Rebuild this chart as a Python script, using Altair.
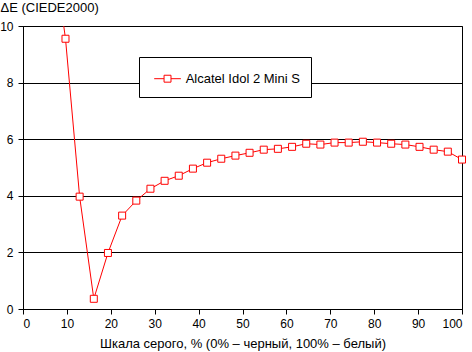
import altair as alt
import pandas as pd

gray_pct = [6.45, 9.68, 12.9, 16.13, 19.35, 22.58, 25.81, 29.03, 32.26, 35.48,
            38.71, 41.94, 45.16, 48.39, 51.61, 54.84, 58.06, 61.29, 64.52, 67.74,
            70.97, 74.19, 77.42, 80.65, 83.87, 87.1, 90.32, 93.55, 96.77, 100]
delta_e = [13.2, 9.55, 3.97, 0.36, 1.98, 3.3, 3.83, 4.25, 4.53, 4.71,
           4.96, 5.17, 5.31, 5.42, 5.52, 5.63, 5.66, 5.73, 5.84, 5.81,
           5.88, 5.88, 5.91, 5.88, 5.84, 5.81, 5.73, 5.63, 5.56, 5.28]
series_name = "Alcatel Idol 2 Mini S"
x_ticks = [0, 10, 20, 30, 40, 50, 60, 70, 80, 90, 100]
y_ticks = [0, 2, 4, 6, 8, 10]

df = pd.DataFrame({"x": gray_pct, "y": delta_e, "s": [series_name] * len(gray_pct)})

FONT = "Liberation Sans"
RED = "#FF0000"

legend_path = "M-0.62,0H0.32M0.98,0H1.92M0.32,-0.33H0.98V0.33H0.32Z"

x_enc = alt.X("x:Q", scale=alt.Scale(domain=[0, 100], nice=False, zero=False),
              axis=alt.Axis(values=x_ticks, grid=False, title="Шкала серого, % (0% – черный, 100% – белый)",
                            titleFontSize=13, titleFontWeight="normal", titleBaseline="alphabetic",
                            titleY=38, labelFontSize=12, labelPadding=4, tickSize=5))
y_enc = alt.Y("y:Q", scale=alt.Scale(domain=[0, 10], nice=False),
              axis=alt.Axis(values=y_ticks, grid=True, title="ΔE (CIEDE2000)", titleAngle=0,
                            titleAlign="left", titleBaseline="alphabetic", titleX=-23, titleY=-15,
                            titleFontSize=13, titleFontWeight="normal", labelFontSize=12,
                            labelPadding=5, tickSize=5))
stroke_enc = alt.Stroke("s:N", scale=alt.Scale(range=[RED]),
                        legend=alt.Legend(title=None, orient="none", legendX=116, legendY=31,
                                          fillColor="white", strokeColor="black", padding=10.7,
                                          symbolType=legend_path, symbolSize=441, symbolStrokeWidth=1,
                                          symbolFillColor="white", labelFontSize=13, labelOffset=14,
                                          labelColor="black", labelFont=FONT, cornerRadius=0,
                                          symbolOpacity=1))

line = alt.Chart(df).mark_line(strokeWidth=1, clip=True).encode(x=x_enc, y=y_enc, stroke=stroke_enc)
pts = alt.Chart(df).mark_point(shape="square", size=49, fill="white", fillOpacity=1, strokeWidth=1,
                               opacity=1).encode(x="x:Q", y="y:Q", stroke=stroke_enc)

chart = alt.layer(line, pts).properties(
    width=439, height=283, autosize=alt.AutoSizeParams(type="none"),
    padding={"left": 23, "top": 26, "right": 10, "bottom": 43}
).configure(background="white", font=FONT).configure_view(
    stroke="black", strokeWidth=1
).configure_axis(
    domainColor="black", tickColor="black", gridColor="black", gridOpacity=1, gridWidth=1,
    labelColor="black", titleColor="black", labelFont=FONT, titleFont=FONT, domainWidth=1, tickWidth=1
)

chart.save("out.html", embed_options={"renderer": "svg", "actions": False})
